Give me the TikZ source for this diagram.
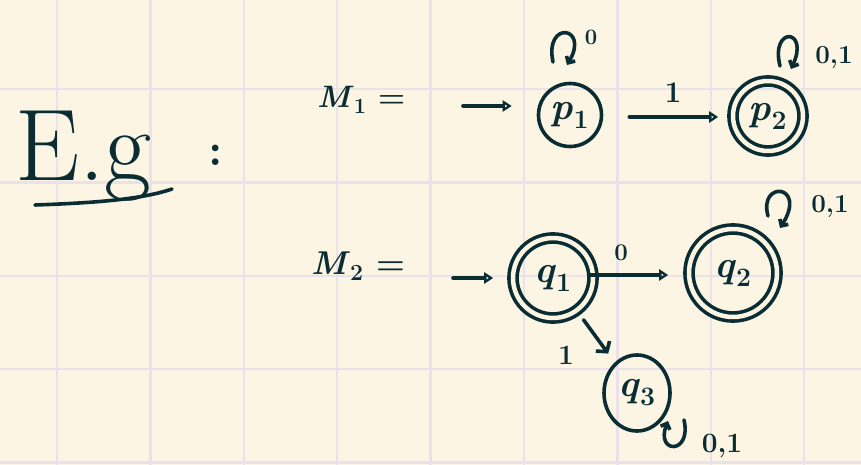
\documentclass[tikz,border=0pt]{standalone}
\usetikzlibrary{arrows.meta,shapes.geometric}
\definecolor{paper}{RGB}{253,245,227}
\definecolor{gridc}{RGB}{234,226,234}
\definecolor{ink}{RGB}{10,45,52}
\newcommand{\lbl}[2]{\textit{#1}\textsubscript{#2}}
\begin{document}
\begin{tikzpicture}[x=1pt,y=-1pt,
  inkline/.style={draw=ink, line width=3.6pt, line cap=round, line join=round},
  state/.style={circle, inkline, minimum size=#1, inner sep=0pt, text=ink,
    font=\fontsize{38}{40}\selectfont\bfseries},
  accept/.style={state=#1, double=paper, double distance=4.5pt},
  ovalstate/.style={ellipse, inkline, minimum width=66pt, minimum height=76pt, inner sep=0pt,
    text=ink, font=\fontsize{38}{40}\selectfont\bfseries},
  arr/.style={inkline, -{Triangle[open, length=9pt, width=11pt]}},
  barb/.style={inkline, -{Straight Barb[length=7pt, width=17pt]}},
  looparr/.style={inkline, -{Straight Barb[length=5pt, width=10pt]}},
  lab/.style={text=ink, inner sep=0pt, font=\fontsize{#1}{#1}\selectfont\bfseries},
  gridline/.style={draw=gridc, line width=2.4pt}]
\fill[paper] (0,0) rectangle (861,465);
\useasboundingbox (0,0) rectangle (861,465);
% grid
\foreach \k in {0,...,8} \draw[gridline] ({57+93.4*\k},0) -- ({57+93.4*\k},465);
\foreach \k in {0,...,4} \draw[gridline] (0,{89.3+93.3*\k}) -- (861,{89.3+93.3*\k});

% title
\node[text=ink, inner sep=0pt, font=\fontsize{102}{102}\selectfont, anchor=base west] (eg) at (15,180) {E.g};
\node[lab=46, anchor=base] (colon) at (216,166) {:};
\coordinate (u1) at (35,205);
\coordinate (u2) at (172,189);
\draw[inkline] (u1) .. controls (90,203) and (140,200) .. (u2);

% M1
\node[lab=31, anchor=base west] (m1) at (317,108) {\lbl{M}{1} =};
\node[state=63pt] (p1) at (570,115) {\lbl{p}{1}};
\node[accept=70pt] (p2) at (768,116) {\lbl{p}{2}};
\coordinate (i1) at (463,106);
\draw[arr, shorten >=25pt] (i1) -- (p1.west |- i1);
\draw[arr, shorten <=26pt, shorten >=13pt] (p1.east |- 0,117) -- (p2.west |- 0,117);
\node[lab=30] (l11) at (673,93) {1};
% loops
\coordinate (p1a) at (553,62);
\coordinate (p1b) at (567,65);
\draw[looparr] (p1a) .. controls (544,20) and (590,26) .. (p1b);
\node[lab=22] (l10) at (591,37) {0};
\coordinate (p2a) at (780,66);
\coordinate (p2b) at (791,69);
\draw[looparr] (p2a) .. controls (770,26) and (810,28) .. (p2b);
\node[lab=26] (l12) at (834,57) {0,1};

% M2
\node[lab=33, anchor=base west] (m2) at (311,274) {\lbl{M}{2} =};
\node[accept=80pt] (q1) at (553,278) {\lbl{q}{1}};
\node[accept=88pt] (q2) at (733,273) {\lbl{q}{2}};
\node[ovalstate] (q3) at (637,393) {\lbl{q}{3}};
\coordinate (i2) at (453,278);
\draw[arr, shorten >=18pt] (i2) -- (q1.west |- i2);
\draw[arr, shorten <=-5pt, shorten >=19pt] (q1.east |- 0,275) -- (q2.west |- 0,275);
\node[lab=24] (l20) at (621,253) {0};
\draw[barb, shorten <=10pt, shorten >=11pt] (q1) -- (q3);
\node[lab=28] (l21) at (566,355) {1};
% loops
\coordinate (q2a) at (768,216);
\coordinate (q2b) at (780,228);
\draw[looparr] (q2a) .. controls (758,180) and (808,184) .. (q2b);
\node[lab=26] (l22) at (830,206) {0,1};
\coordinate (q3a) at (684,420);
\coordinate (q3b) at (668,421);
\draw[looparr] (q3a) .. controls (692,455) and (655,454) .. (q3b);
\node[lab=28] (l23) at (722,446) {0,1};
\end{tikzpicture}
\end{document}
